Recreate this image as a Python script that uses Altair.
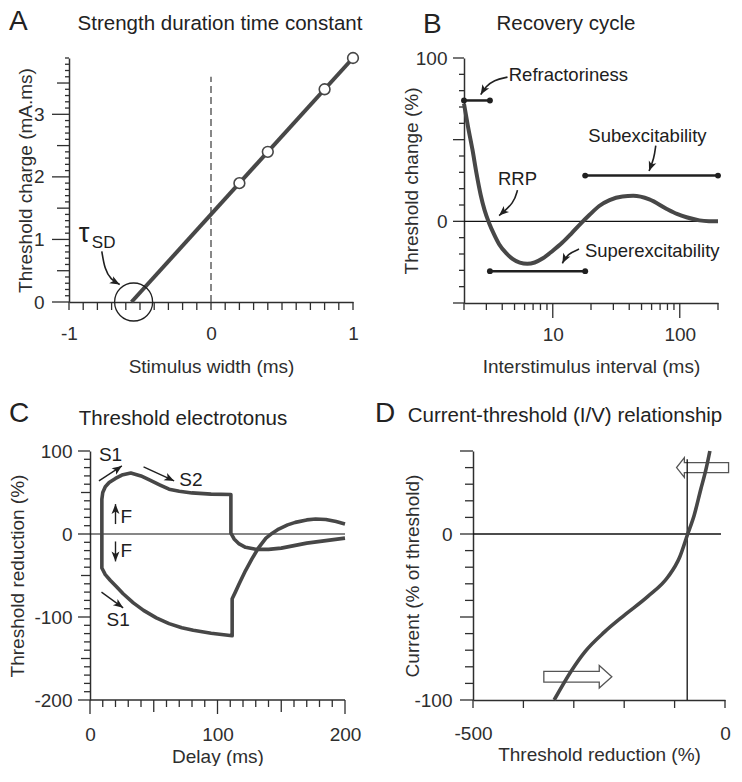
import altair as alt
import pandas as pd

FONT = "Liberation Sans"
INK = "#2e2e2e"
CURVE = "#474747"
ANNOT = "#202020"

# ---------------- Panel A : strength-duration time constant ----------------
A_fit_width = [-0.56, 1.0]
A_fit_charge = [0.0, 3.9]
A_width = [0.2, 0.4, 0.8, 1.0]
A_charge = [1.9, 2.4, 3.4, 3.9]
A_tau_width = [-0.545]
A_tau_charge = [0.0]
A_dash_width = [0.0]
A_dash_top = [3.6]
A_x_labels = [-1, 0, 1]
A_y_labels = [0, 1, 2, 3]

# ---------------- Panel B : recovery cycle ----------------
B_interval = [2, 2.15, 2.33, 2.5, 2.71, 2.9, 3.15, 3.45, 3.78, 4.3, 4.82, 5.5, 6.3,
              7.2, 8.3, 10, 11.9, 14, 16.6, 19.5, 23.2, 28, 35.4, 43, 57.6, 79, 95,
              113, 143, 170, 200]
B_change = [72, 58, 44, 30, 16, 7, -1, -8, -14, -19.5, -23, -25.3, -26,
            -25.2, -22.8, -18, -13, -7.5, -1.4, 4, 9.4, 13, 15.2, 15.6, 13.4, 7.6, 4.6,
            2.5, 0.6, 0.1, 0]
B_bar_name = ["Refractoriness", "Superexcitability", "Subexcitability"]
B_bar_start = [2, 3.2, 18]
B_bar_end = [3.2, 18, 200]
B_bar_level = [74, -30.5, 28]
B_x_labels = [10, 100]
B_y_labels = [0, 100]

# ---------------- Panel C : threshold electrotonus ----------------
C_dep_delay = [9.3, 9.3, 10, 12, 15, 20, 25, 32, 40, 47, 55, 62, 70, 80, 95, 110.5,
               110.5, 113, 117, 122, 130, 140, 150, 160, 170, 185, 200]
C_dep_red = [0, 42, 50, 57, 62, 67, 71, 73.5, 70, 65, 59, 54, 51.5, 49.5, 48, 47.5,
             1, -6, -12, -16, -18.5, -18.5, -17, -14, -11, -8, -5]
C_hyp_delay = [9.3, 9.3, 12, 16, 21, 26, 34, 42, 52, 62, 72, 81, 95, 111.5,
               111.5, 114, 117, 122, 127, 132, 138, 143, 148, 155, 161, 170, 177, 185, 193, 200]
C_hyp_red = [0, -41, -49, -56, -64, -72, -83, -92, -101, -108, -113, -116, -119.5, -122.5,
             -78, -70, -60, -44, -30, -17, -5, 1, 6, 11, 14, 17, 18, 17.5, 15, 12]
C_x_labels = [0, 100, 200]
C_y_labels = [-200, -100, 0, 100]

# ---------------- Panel D : current-threshold relationship ----------------
D_reduction = [-339, -305, -278, -239, -200, -153, -113, -90, -74, -61, -48, -38, -30]
D_current = [-100, -82.5, -71, -59, -49, -37.6, -25.8, -14, 0, 11.5, 27, 38.6, 50]
D_resting = [-75]
D_x_labels = [-500, 0]
D_y_labels = [-100, 0]

HEAD = "M0,0L0.65,1.6L0,1.2L-0.65,1.6Z"


def lin(domain):
    return alt.Scale(domain=domain, nice=False, zero=False)


def axis(labels, title, pad, tx, ty, orient, domain=True, offset=0):
    return alt.Axis(
        values=labels, title=title, grid=False, ticks=False, tickSize=0, domain=domain,
        offset=offset,
        labelExpr="'' + datum.value", labelOverlap=False, labelFlush=False,
        labelFont=FONT, labelFontSize=19, labelColor=INK, labelPadding=pad,
        domainColor=INK, domainWidth=1.5, titleFont=FONT, titleFontSize=19,
        titleFontWeight="normal", titleColor=INK, titleX=tx, titleY=ty,
        titleAlign="center", titleBaseline="middle",
        titleAngle=270 if orient == "left" else 0)


class Panel:
    def __init__(self, w, h, xs, ys, xaxis, yaxis, yaxis_x=0):
        self.w, self.h, self.ax = w, h, yaxis_x
        self.xs, self.ys, self.xa, self.ya = xs, ys, xaxis, yaxis

    def X(self, f="x"):
        return alt.X(f"{f}:Q", scale=self.xs, axis=self.xa)

    def Y(self, f="y"):
        return alt.Y(f"{f}:Q", scale=self.ys, axis=self.ya)

    def enc(self):
        return dict(x=self.X(), y=self.Y())

    def xticks(self, vals, length):
        df = pd.DataFrame({"v": vals})
        return alt.Chart(df).mark_rule(color=INK, strokeWidth=1.3).encode(
            x=self.X("v"), y=alt.value(self.h), y2=alt.value(self.h + length))

    def yticks(self, vals, length):
        df = pd.DataFrame({"v": vals})
        return alt.Chart(df).mark_rule(color=INK, strokeWidth=1.3).encode(
            y=self.Y("v"), x=alt.value(self.ax - length), x2=alt.value(self.ax))

    def arrow(self, px, py, angle, color=ANNOT, width=1.6, head=150, interp="basis"):
        df = pd.DataFrame({"x": px, "y": py, "i": list(range(len(px)))})
        shaft = alt.Chart(df).mark_line(color=color, strokeWidth=width,
                                        interpolate=interp).encode(order="i:Q", **self.enc())
        tip = pd.DataFrame({"x": [px[-1]], "y": [py[-1]]})
        hd = alt.Chart(tip).mark_point(shape=HEAD, size=head, filled=True, color=color,
                                       opacity=1, angle=angle, strokeWidth=0).encode(**self.enc())
        return [shaft, hd]

    def label(self, text, x, y, size=18.5, align="left", baseline="middle"):
        df = pd.DataFrame({"x": [x], "y": [y], "t": [text]})
        return alt.Chart(df).mark_text(font=FONT, fontSize=size, color=ANNOT, align=align,
                                       baseline=baseline).encode(text="t:N", **self.enc())


def pixel_text(text, x, y, size, align="left", color="#222"):
    df = pd.DataFrame({"t": [text]})
    return alt.Chart(df).mark_text(font=FONT, fontSize=size, color=color, align=align,
                                   baseline="top").encode(
        x=alt.value(x), y=alt.value(y), text="t:N")


def header(letter, title, lx, ly, tx, ty):
    return [pixel_text(letter, lx, ly, 28), pixel_text(title, tx, ty, 20.5, align="center")]


def steps(lo, hi, step):
    n = int(round((hi - lo) / step))
    return [round(lo + i * step, 6) for i in range(n + 1)]


# ======================= Panel A =======================
AW, AH = 284, 244
pa = Panel(AW, AH, lin([-1, 1]), lin([0, 3.9]),
           axis(A_x_labels, "Stimulus width (ms)", 22, AW / 2, 64, "bottom"),
           axis(A_y_labels, "Threshold charge (mA.ms)", 25, -44, AH / 2, "left"))
a_tenths = steps(0, 3.9, 0.1)
a_layers = [
    pa.xticks(steps(-1, 1, 0.1), 8),
    pa.yticks([v for v in a_tenths if abs(v * 2 - round(v * 2)) > 1e-6], 4),
    pa.yticks([v for v in a_tenths if abs(v * 2 - round(v * 2)) < 1e-6
               and abs(v - round(v)) > 1e-6], 12),
    pa.yticks(A_y_labels, 17),
]
a_dash = alt.Chart(pd.DataFrame({"x": A_dash_width * 2, "y": [0.0] + A_dash_top,
                                 "i": [0, 1]})).mark_line(
    color="#555", strokeWidth=1.4, strokeDash=[7, 4]).encode(order="i:Q", **pa.enc())
a_line = alt.Chart(pd.DataFrame({"x": A_fit_width, "y": A_fit_charge})).mark_line(
    color=CURVE, strokeWidth=4).encode(**pa.enc())
a_pts = alt.Chart(pd.DataFrame({"x": A_width, "y": A_charge})).mark_point(
    shape="circle", size=115, filled=True, fill="white", stroke=CURVE, strokeWidth=1.6,
    opacity=1).encode(**pa.enc())
a_circle = alt.Chart(pd.DataFrame({"x": A_tau_width, "y": A_tau_charge})).mark_point(
    shape="circle", size=1444, filled=False, stroke=ANNOT, strokeWidth=1.3, opacity=1).encode(
    **pa.enc())
a_layers += [a_dash, a_line, a_pts, a_circle]
a_layers += pa.arrow([-0.769, -0.748, -0.706, -0.643], [0.81, 0.52, 0.36, 0.28], 119)
a_layers += [pa.label("τ", -0.932, 0.964, size=27, baseline="alphabetic"),
             pa.label("SD", -0.839, 0.86, size=17, baseline="alphabetic")]
a_layers += header("A", "Strength duration time constant", -60, -50, 151, -44.5)
panelA = alt.layer(*a_layers).properties(width=AW, height=AH)

# ======================= Panel B =======================
BW, BH = 254, 245
pb = Panel(BW, BH, alt.Scale(type="log", domain=[2, 200], nice=False), lin([-50, 100]),
           axis(B_x_labels, "Interstimulus interval (ms)", 22, BW / 2, 63, "bottom"),
           axis(B_y_labels, "Threshold change (%)", 17, -53, BH / 2, "left"))
b_minor = [2, 3, 4, 5, 6, 7, 8, 9, 20, 30, 40, 50, 60, 70, 80, 90, 200]
b_layers = [
    pb.xticks(b_minor, 7),
    pb.xticks(B_x_labels, 15),
    pb.yticks([v for v in steps(-50, 100, 10) if v % 50 != 0], 5),
    pb.yticks([-50, 0, 50, 100], 11),
]
b_zero = alt.Chart(pd.DataFrame({"x": [2], "x2": [200], "y": [0]})).mark_rule(
    color="#111", strokeWidth=1.2).encode(x2="x2:Q", **pb.enc())
b_curve = alt.Chart(pd.DataFrame({"x": B_interval, "y": B_change})).mark_line(
    color=CURVE, strokeWidth=4, interpolate="monotone").encode(**pb.enc())
bars = pd.DataFrame({"x": B_bar_start, "x2": B_bar_end, "y": B_bar_level, "n": B_bar_name})
b_bars = alt.Chart(bars).mark_rule(color=ANNOT, strokeWidth=2.5).encode(
    x2="x2:Q", **pb.enc())
ends = pd.DataFrame({"x": B_bar_start + B_bar_end, "y": B_bar_level + B_bar_level})
b_ends = alt.Chart(ends).mark_point(shape="circle", size=35, filled=True, color=ANNOT,
                                    opacity=1).encode(**pb.enc())
b_layers += [b_zero, b_curve, b_bars, b_ends]
b_layers += pb.arrow([4.40, 3.43, 2.97, 2.71], [88.3, 86.5, 82.5, 77.6], 211)
b_layers += pb.arrow([64.7, 62.8, 57.3], [46.4, 38.6, 30.8], 201)
b_layers += pb.arrow([5.27, 4.96, 3.78], [19.1, 11.3, 3.5], 228)
b_layers += pb.arrow([16.1, 13.1, 11.9], [-17, -19.9, -25.7], 207)
b_layers += [pb.label("Refractoriness", 4.5, 89.5),
             pb.label("Subexcitability", 55.7, 52, align="center"),
             pb.label("RRP", 5.27, 26, align="center"),
             pb.label("Superexcitability", 17.9, -18)]
b_layers += header("B", "Recovery cycle", -41, -47, 102, -44.5)
b_layers += [pixel_text(" ", -89, 0, 10)]  # left extent keeper
panelB = alt.layer(*b_layers).properties(width=BW, height=BH)

# ======================= Panel C =======================
C_EXT = 21          # blank strip left of the y axis (pixels)
CW, CH = 255, 249
c_lo = -C_EXT * 200 / CW
pc = Panel(CW + C_EXT, CH, lin([c_lo, 200]), lin([-200, 100]),
           axis(C_x_labels, "Delay (ms)", 25, C_EXT + CW / 2, 56, "bottom", domain=False),
           axis(C_y_labels, "Threshold reduction (%)", 18, -73, CH / 2, "left",
                offset=-C_EXT),
           yaxis_x=C_EXT)
c_x = steps(0, 200, 10)
c_y = steps(-200, 100, 10)
c_base = alt.Chart(pd.DataFrame({"x": [0], "x2": [200], "y": [-200]})).mark_rule(
    color=INK, strokeWidth=1.5).encode(x2="x2:Q", **pc.enc())
c_layers = [
    c_base,
    pc.xticks([v for v in c_x if v % 50 != 0], 7),
    pc.xticks([50, 150], 12),
    pc.xticks(C_x_labels, 14),
    pc.yticks([v for v in c_y if v % 50 != 0], 6),
    pc.yticks([-150, -50, 50], 9),
    pc.yticks(C_y_labels, 12),
]
c_zero = alt.Chart(pd.DataFrame({"x": [0], "x2": [200], "y": [0]})).mark_rule(
    color="#111", strokeWidth=1.2).encode(x2="x2:Q", **pc.enc())
c_dep = alt.Chart(pd.DataFrame({"x": C_dep_delay, "y": C_dep_red,
                                "i": list(range(len(C_dep_delay)))})).mark_line(
    color=CURVE, strokeWidth=3.6, strokeJoin="round").encode(order="i:Q", **pc.enc())
c_hyp = alt.Chart(pd.DataFrame({"x": C_hyp_delay, "y": C_hyp_red,
                                "i": list(range(len(C_hyp_delay)))})).mark_line(
    color=CURVE, strokeWidth=3.6, strokeJoin="round").encode(order="i:Q", **pc.enc())
c_layers += [c_zero, c_dep, c_hyp]
c_layers += pc.arrow([7, 25], [64, 82], 55, interp="linear", width=1.4)
c_layers += pc.arrow([42, 66], [81, 64], 116, interp="linear", width=1.4)
c_layers += pc.arrow([20, 20], [12, 36], 0, interp="linear", width=1.4)
c_layers += pc.arrow([20, 20], [-9, -33], 180, interp="linear", width=1.4)
c_layers += pc.arrow([9, 26], [-70, -89], 126, interp="linear", width=1.4)
c_layers += [pc.label("S1", 7, 95, size=19),
             pc.label("S2", 70, 65, size=19),
             pc.label("F", 24, 21, size=19),
             pc.label("F", 24, -20, size=19),
             pc.label("S1", 13, -104, size=19)]
c_layers += header("C", "Threshold electrotonus", C_EXT - 81, -51, C_EXT + 93, -42.5)
panelC = alt.layer(*c_layers).properties(width=CW + C_EXT, height=CH)

# ======================= Panel D =======================
DW, DH = 252, 249
pdd = Panel(DW, DH, lin([-500, 0]), lin([-100, 50]),
            axis(D_x_labels, "Threshold reduction (%)", 24, DW / 2, 54, "bottom"),
            axis(D_y_labels, "Current (% of threshold)", 21, -61, DH / 2, "left"))
d_layers = [
    pdd.xticks(steps(-500, 0, 100), 8),
    pdd.yticks([v for v in steps(-100, 50, 10) if v % 50 != 0], 8),
    pdd.yticks([-100, -50, 0, 50], 13),
]
RIGHT_ARROW = "M-1,-0.157L0.63,-0.157L0.63,-0.33L1,0L0.63,0.33L0.63,0.157L-1,0.157Z"
LEFT_ARROW = "M1,-0.19L-0.7,-0.19L-0.7,-0.38L-1,0L-0.7,0.38L-0.7,0.19L1,0.19Z"
d_arr1 = alt.Chart(pd.DataFrame({"x": [-44.5], "y": [40]})).mark_point(
    shape=LEFT_ARROW, size=52 * 52, filled=True, fill="white", stroke="#555",
    strokeWidth=1.3, opacity=1).encode(**pdd.enc())
d_arr2 = alt.Chart(pd.DataFrame({"x": [-292], "y": [-86]})).mark_point(
    shape=RIGHT_ARROW, size=68 * 68, filled=True, fill="white", stroke="#555",
    strokeWidth=1.3, opacity=1).encode(**pdd.enc())
d_h = alt.Chart(pd.DataFrame({"x": [-500], "x2": [-8], "y": [0]})).mark_rule(
    color="#111", strokeWidth=1.3).encode(x2="x2:Q", **pdd.enc())
d_v = alt.Chart(pd.DataFrame({"x": D_resting, "y": [-100], "y2": [45]})).mark_rule(
    color="#111", strokeWidth=1.3).encode(y2="y2:Q", **pdd.enc())
d_curve = alt.Chart(pd.DataFrame({"x": D_reduction, "y": D_current})).mark_line(
    color=CURVE, strokeWidth=3.6, interpolate="monotone").encode(**pdd.enc())
d_layers += [d_arr1, d_arr2, d_h, d_v, d_curve]
d_layers += header("D", "Current-threshold (I/V) relationship", -98, -51, 92, -45.5)
panelD = alt.layer(*d_layers).properties(width=DW, height=DH)

chart = alt.concat(panelA, panelB, panelC, panelD, columns=2, align="none",
                   spacing={"row": 24, "column": 12}).properties(
    padding={"left": 0, "top": 0, "right": 0, "bottom": 0}
).configure_view(stroke=None)

chart.save("out.html", embed_options={"renderer": "svg", "actions": False})
